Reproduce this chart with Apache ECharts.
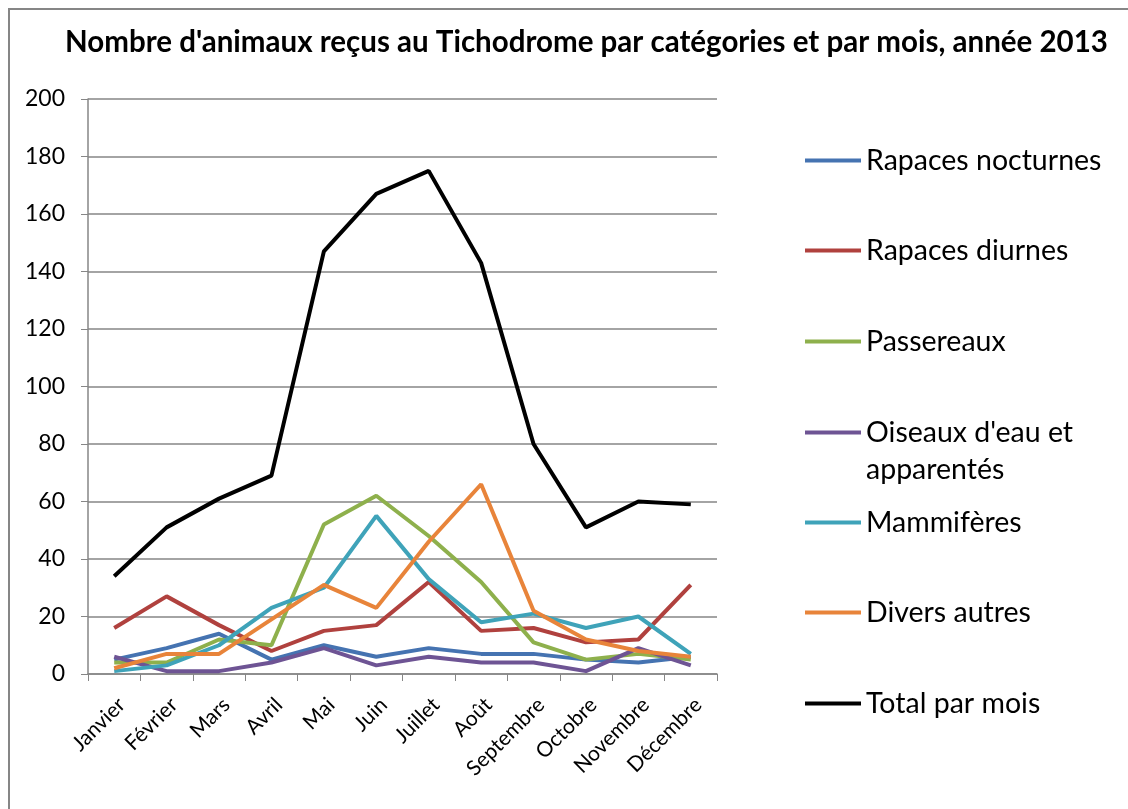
<!DOCTYPE html>
<html>
<head>
<meta charset="utf-8">
<script src="https://cdn.jsdelivr.net/npm/echarts@6/dist/echarts.min.js"></script>
<style>
  html, body { margin: 0; padding: 0; background: #fff; }
  #chart { width: 1128px; height: 809px; }
</style>
</head>
<body>
<div id="chart"></div>
<script>
// ==================== 数据 ====================

const mois = ['Janvier', 'Février', 'Mars', 'Avril', 'Mai', 'Juin', 'Juillet', 'Août', 'Septembre', 'Octobre', 'Novembre', 'Décembre'];

const rapacesNocturnes = [5, 9, 14, 5, 10, 6, 9, 7, 7, 5, 4, 6];
const rapacesDiurnes = [16, 27, 17, 8, 15, 17, 32, 15, 16, 11, 12, 31];
const passereaux = [4, 4, 12, 10, 52, 62, 48, 32, 11, 5, 7, 5];
const oiseauxEau = [6, 1, 1, 4, 9, 3, 6, 4, 4, 1, 9, 3];
const mammiferes = [1, 3, 10, 23, 30, 55, 33, 18, 21, 16, 20, 7];
const diversAutres = [2, 7, 7, 19, 31, 23, 46, 66, 22, 12, 8, 6];
const totalParMois = [34, 51, 61, 69, 147, 167, 175, 143, 80, 51, 60, 59];

const yTicks = [0, 20, 40, 60, 80, 100, 120, 140, 160, 180, 200];

// ==================== 样式 ====================

const FONT = 'Lato';
const GRAY = '#868686';
const LEGEND_SIZE = 28.5;

const series = [
  { name: 'Rapaces nocturnes', data: rapacesNocturnes, color: '#4573B1' },
  { name: 'Rapaces diurnes', data: rapacesDiurnes, color: '#B0413E' },
  { name: 'Passereaux', data: passereaux, color: '#8EB04C' },
  { name: "Oiseaux d'eau et apparentés", data: oiseauxEau, color: '#6E5494' },
  { name: 'Mammifères', data: mammiferes, color: '#3FA3B9' },
  { name: 'Divers autres', data: diversAutres, color: '#E8843A' },
  { name: 'Total par mois', data: totalParMois, color: '#000000' },
];

// 每个图例单独定位（文字中线 y）
const legendCenters = [158, 248, 339, 430, 520, 610, 701];

const legends = series.map((s, i) => ({
  data: [s.name],
  left: 805,
  top: legendCenters[i] - 12,
  padding: 0,
  itemWidth: 56,
  itemHeight: 4,
  itemGap: 4,
  icon: 'rect',
  formatter: name => name.startsWith('Oiseaux') ? "Oiseaux d'eau et" : name,
  textStyle: { fontFamily: FONT, fontSize: LEGEND_SIZE, color: '#000' },
  selectedMode: false,
}));

const chart = echarts.init(document.getElementById('chart'));

chart.setOption({
  animation: false,
  backgroundColor: '#fff',
  title: {
    text: "Nombre d'animaux reçus au Tichodrome par catégories et par mois, année 2013",
    left: 60,
    top: 22,
    textStyle: { fontFamily: FONT, fontSize: 29.5, fontWeight: 'bold', color: '#000' },
  },
  legend: legends,
  graphic: [
    {
      type: 'rect',
      shape: { x: 9, y: 9, width: 1140, height: 820 },
      style: { fill: 'none', stroke: GRAY, lineWidth: 2 },
      silent: true,
    },
    {
      type: 'text',
      left: 866,
      top: 455,
      style: { text: 'apparentés', font: LEGEND_SIZE + 'px ' + FONT, fill: '#000' },
    },
  ],
  grid: { left: 88, right: 411, top: 99, bottom: 135 },
  xAxis: {
    type: 'category',
    data: mois,
    boundaryGap: true,
    axisLine: { lineStyle: { color: GRAY, width: 1.5 } },
    axisTick: { show: true, length: 7, lineStyle: { color: GRAY } },
    axisLabel: {
      rotate: 45, fontFamily: FONT, fontSize: 21, color: '#000',
      margin: 20, interval: 0, align: 'right', verticalAlign: 'top',
    },
  },
  yAxis: {
    type: 'value',
    min: 0,
    max: 200,
    interval: 20,
    axisLine: { show: true, lineStyle: { color: GRAY, width: 1.5 } },
    axisTick: { show: true, length: 7, lineStyle: { color: GRAY } },
    axisLabel: {
      fontFamily: FONT, fontSize: 23, color: '#000', margin: 23,
      formatter: v => yTicks.includes(v) ? String(v) : '',
    },
    splitLine: { lineStyle: { color: GRAY, width: 1.5 } },
  },
  series: series.map(s => ({
    name: s.name,
    type: 'line',
    data: s.data,
    symbol: 'none',
    color: s.color,
    lineStyle: { width: 4, color: s.color },
  })),
});
</script>
</body>
</html>
